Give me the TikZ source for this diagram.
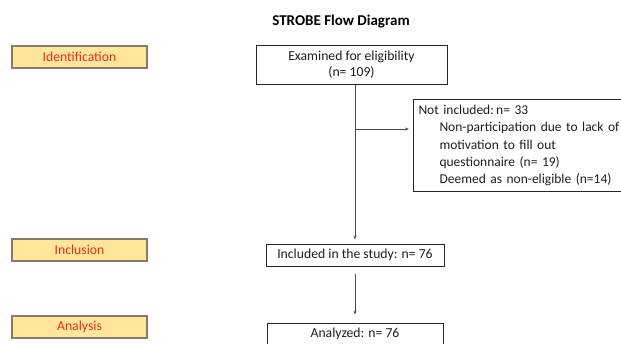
\documentclass[tikz,border=0pt]{standalone}
\usepackage{fontspec}
\setmainfont{Carlito}
\usetikzlibrary{arrows.meta}
\definecolor{lblfill}{RGB}{255,230,153}
\definecolor{lblred}{RGB}{235,45,35}
\definecolor{lbldraw}{RGB}{130,125,110}
\definecolor{boxtext}{RGB}{30,30,30}
\tikzset{
  lbl/.style={draw=lbldraw, line width=1.1pt, fill=lblfill, minimum width=135pt, minimum height=22pt, inner sep=0pt, text=lblred, font=\fontsize{13.7}{15}\selectfont},
  flowbox/.style={draw=black!85, line width=1pt, inner sep=0pt, text=boxtext, font=\fontsize{13.7}{16}\selectfont, align=center},
  conn/.style={draw=black!70, line width=0.7pt, -{Stealth[length=4pt,width=3pt]}},
  plain/.style={draw=black!70, line width=0.7pt}
}
\begin{document}
\begin{tikzpicture}[x=1pt,y=-1pt]
\useasboundingbox (0,0) rectangle (621,343);
\clip (0,0) rectangle (621,343);
\node[font=\bfseries\fontsize{15}{17}\selectfont] (title) at (341,22) {STROBE Flow Diagram};
\node[lbl] (ident) at (79.5,57) {Identification};
\node[lbl] (incl) at (79.5,250) {Inclusion};
\node[lbl] (anal) at (79.5,327) {Analysis};
\node[flowbox, minimum width=191pt, minimum height=39pt] (exam) at (351.5,64.5) {Examined for eligibility\\(n= 109)};
\node[flowbox, minimum width=178pt, minimum height=22pt] (incstudy) at (355,255) {Included in the study: n= 76};
\node[flowbox, minimum width=176pt, minimum height=22pt] (analyzed) at (355,334) {Analyzed: n= 76};
\node[flowbox, anchor=north west, text width=205pt, minimum height=92pt, inner xsep=5pt, align=left, font=\fontsize{13.5}{17.3}\selectfont] (notinc) at (413,99)
  {\rule{0pt}{5pt}Not included:\,n= 33\\
   \hspace*{21pt}Non-participation due to lack of\\
   \hspace*{21pt}motivation to fill out\\
   \hspace*{21pt}questionnaire (n= 19)\\
   \hspace*{21pt}Deemed as non-eligible (n=14)};
\coordinate (branch) at (355,129);
\draw[plain] (branch |- exam.south) -- (branch);
\draw[conn] (branch) -- ([xshift=-4pt]notinc.west |- branch);
\draw[conn] (branch) -- ([yshift=4pt]incstudy.north -| branch);
\draw[conn] ([yshift=-7pt]incstudy.south) -- ([yshift=8pt]analyzed.north -| incstudy.south);
\end{tikzpicture}
\end{document}
